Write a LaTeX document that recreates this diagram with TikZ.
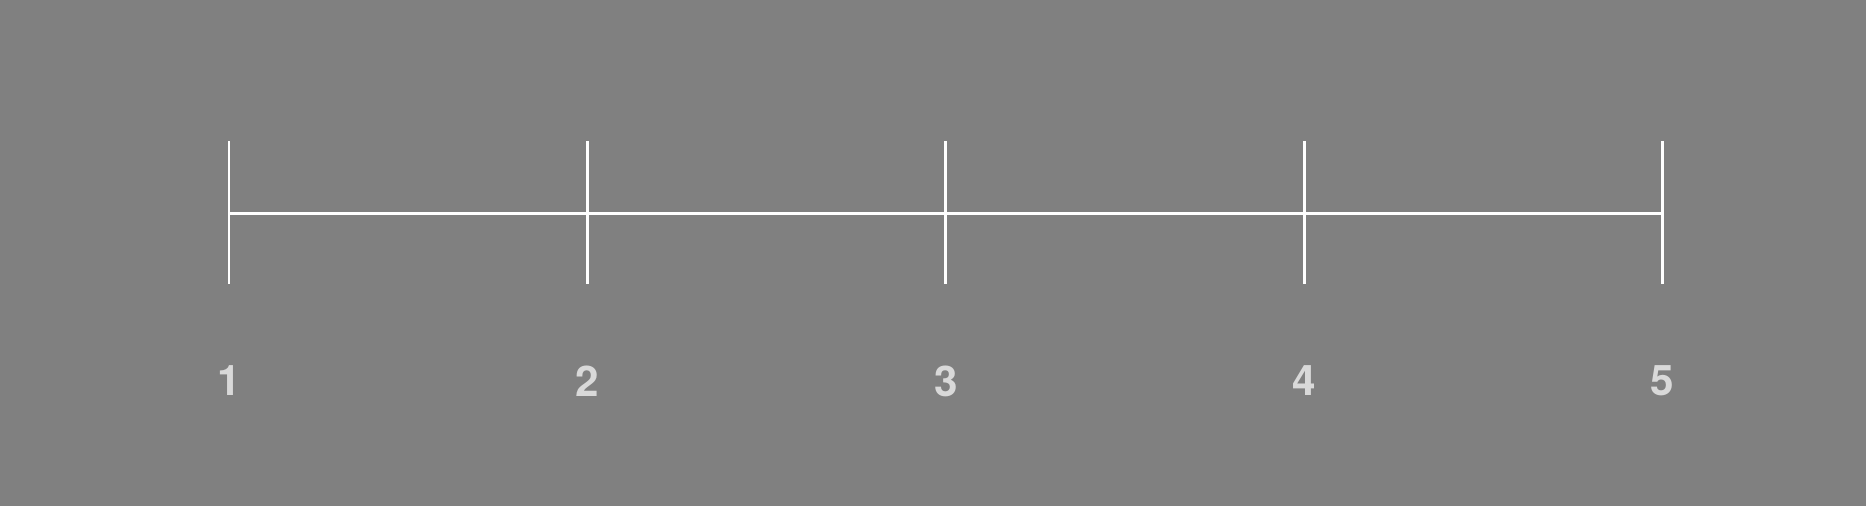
\documentclass[tikz,border=0pt]{standalone}
\usepackage{fontspec}
\setmainfont{TeX Gyre Heros}
\usetikzlibrary{calc}

\begin{document}
\begin{tikzpicture}
	\fill[gray] (0,0) rectangle (18.66,5.06);
	\useasboundingbox (0,0) rectangle (18.66,5.06);
	\coordinate (p1) at (2.29,2.925); \coordinate (p5) at (16.625,2.925);
	\draw[white, line width=0.85pt] (p1)--(p5);
	% ticks and labels
	\foreach \i in {1,...,5} {
		\coordinate (t\i) at ($(p1)!{(\i-1)/4}!(p5)$);
		\draw[white, line width=0.85pt] ($(t\i)+(0,0.725)$)--($(t\i)+(0,-0.705)$);
		\node[text=white!85!black, font=\fontsize{12}{14}\selectfont\bfseries] (l\i) at ($(t\i)+(0,-1.675)$) {\i};
	}
\end{tikzpicture}
\end{document}
